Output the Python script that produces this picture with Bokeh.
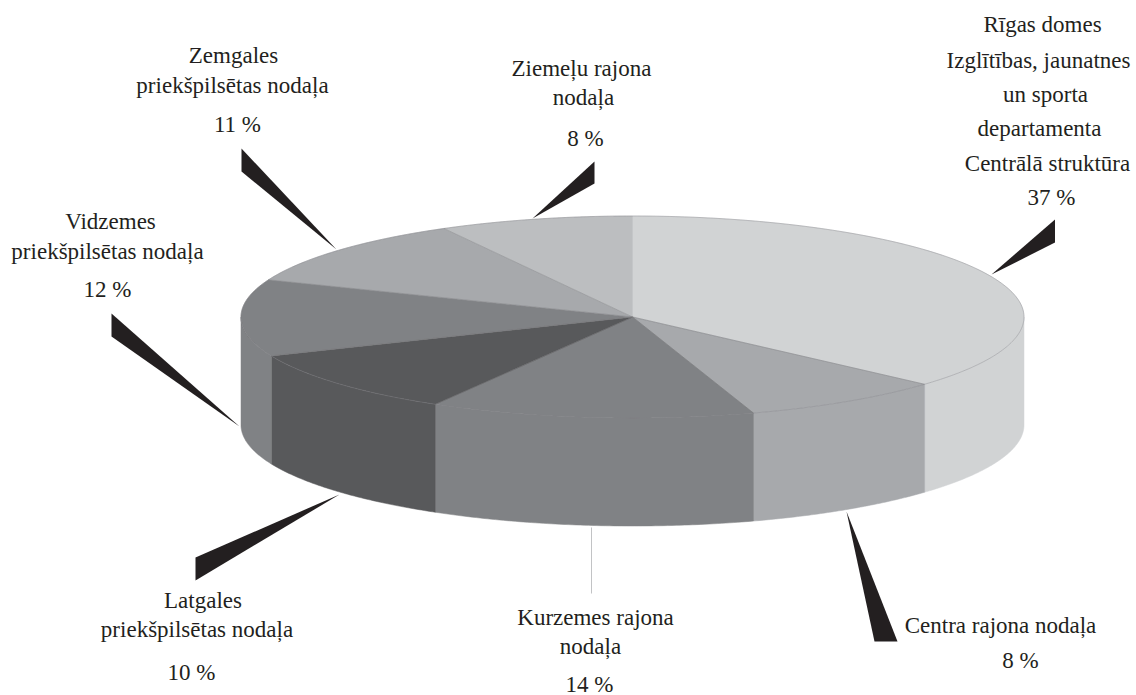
import numpy as np
from bokeh.core.properties import value
from bokeh.embed import file_html
from bokeh.models import ColumnDataSource, Range1d
from bokeh.plotting import figure
from bokeh.resources import INLINE

# ---- data ----
categories = ["Rīgas domes Izglītības, jaunatnes un sporta departamenta Centrālā struktūra",
              "Centra rajona nodaļa", "Kurzemes rajona nodaļa",
              "Latgales priekšpilsētas nodaļa", "Vidzemes priekšpilsētas nodaļa",
              "Zemgales priekšpilsētas nodaļa", "Ziemeļu rajona nodaļa"]
labelled_percent = [37, 8, 14, 10, 12, 11, 8]
drawn_share = [36.6, 8.4, 13.4, 10.3, 12.3, 11.0, 8.0]

# ---- styles ----
slice_colors = ["#d1d3d4", "#a7a9ac", "#808285", "#58595b", "#808285", "#a7a9ac", "#bcbec0"]
POINTER = "#231f20"
TEXT = "#231f20"
FONT = "Liberation Serif"
FS = "23px"

# ---- layout (page pixels) ----
CX, CY, RX, RY, DEPTH = 632.0, 316.5, 391.5, 101.0, 108.0

def ring(t):
    return CX + RX * np.sin(t), CY - RY * np.cos(t)

p = figure(width=1136, height=695, output_backend="svg", toolbar_location=None,
           x_range=Range1d(0, 1136), y_range=Range1d(695, 0),
           min_border=0, outline_line_color=None, background_fill_color="white",
           border_fill_color="white")
p.axis.visible = False
p.grid.visible = False
p.styles = {"margin-right": "-16px", "margin-bottom": "-16px"}

edges = np.deg2rad(np.cumsum([0] + drawn_share) * 3.6)

# side wall: only the front half of the rim is visible
sx, sy, sc = [], [], []
for a, b, c in zip(edges[:-1], edges[1:], slice_colors):
    lo, hi = max(a, np.pi / 2), min(b, 3 * np.pi / 2)
    if hi <= lo:
        continue
    t = np.linspace(lo, hi, 80)
    x, y = ring(t)
    sx.append(np.r_[x, x[::-1]])
    sy.append(np.r_[y, (y + DEPTH)[::-1]])
    sc.append(c)
p.patches(sx, sy, fill_color=sc, line_color=sc, line_width=0.5)

# top face
tx, ty = [], []
for a, b in zip(edges[:-1], edges[1:]):
    t = np.linspace(a, b, 120)
    x, y = ring(t)
    tx.append(np.r_[CX, x])
    ty.append(np.r_[CY, y])
p.patches(tx, ty, fill_color=slice_colors, line_color=slice_colors, line_width=0.5)

# thin rim and radial lines on the top face
t = np.linspace(0, 2 * np.pi, 400)
rx_, ry_ = ring(t)
p.line(rx_, ry_, line_color="#808285", line_width=0.4)
ex, ey = ring(edges[1:-1])
p.multi_line([[CX, v] for v in ex], [[CY, v] for v in ey], line_color="#6d6e71", line_width=0.35)

# pointers
pointers_x = [[1054.5, 1054.5, 991], [874, 897, 846], [195, 195, 339],
              [111, 111, 239], [241, 241, 336], [594, 594, 532]]
pointers_y = [[219, 242, 274], [641, 641, 511], [557, 580, 494],
              [313, 336, 426], [148, 171, 249], [161, 183, 218]]
p.patches(pointers_x, pointers_y, fill_color=POINTER, line_color=None)
p.line([591, 591], [527, 593], line_color="#a7a9ac", line_width=0.7)

# label lines: text, centre x, y
pct = [f"{v} %" for v in labelled_percent]
label_text = ["Rīgas domes", "Izglītības, jaunatnes", "un sporta", "departamenta", "Centrālā struktūra", pct[0],
              "Centra rajona nodaļa", pct[1],
              "Kurzemes rajona", "nodaļa", pct[2],
              "Latgales", "priekšpilsētas nodaļa", pct[3],
              "Vidzemes", "priekšpilsētas nodaļa", pct[4],
              "Zemgales", "priekšpilsētas nodaļa", pct[5],
              "Ziemeļu rajona", "nodaļa", pct[6]]
label_x = [1042, 1038, 1045, 1039, 1047, 1051,
           1000, 1020,
           595, 590, 589,
           202.5, 196.5, 191,
           110, 107, 107,
           233, 232, 237,
           581, 583, 585]
label_y = [24, 60, 94, 128, 163, 197,
           625, 660,
           617, 646, 684,
           600, 629, 672,
           221, 251, 289,
           55, 85, 124,
           68, 97, 138]
p.text(x="x", y="y", text="t", source=ColumnDataSource(dict(x=label_x, y=label_y, t=label_text)),
       text_font=value(FONT), text_font_size=FS, text_color=TEXT,
       text_align="center", text_baseline="middle")

open("out.html", "w").write(file_html(p, INLINE))
